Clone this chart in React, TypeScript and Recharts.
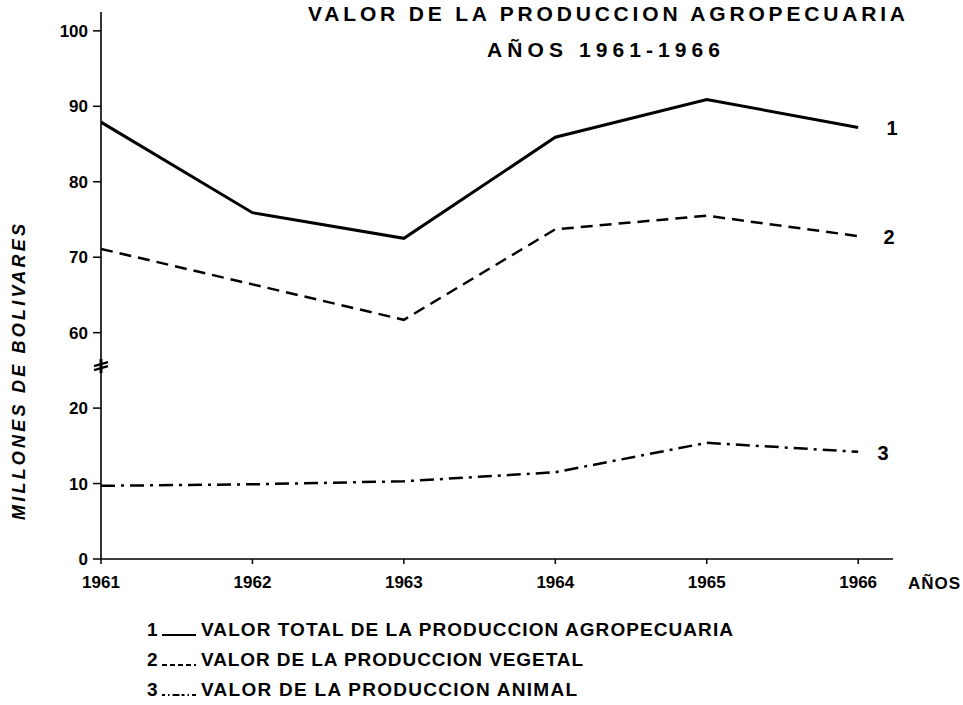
import React from 'react'
import { LineChart, Line, XAxis, YAxis, ReferenceDot } from 'recharts'

// values in millions of bolivares
const years = [1961, 1962, 1963, 1964, 1965, 1966]
const totalValues = [87.9, 75.9, 72.5, 85.9, 90.9, 87.2]
const vegetalValues = [71.1, 66.4, 61.7, 73.7, 75.5, 72.8]
const animalValues = [9.7, 9.9, 10.3, 11.5, 15.4, 14.2]
const yTickLabels = [0, 10, 20, 60, 70, 80, 90, 100]

const legendItems = [
  { num: '1', text: 'VALOR TOTAL DE LA PRODUCCION AGROPECUARIA', dash: undefined, textWidth: 532 },
  { num: '2', text: 'VALOR DE LA PRODUCCION VEGETAL', dash: '5 3', textWidth: 382 },
  { num: '3', text: 'VALOR DE LA PRODUCCION ANIMAL', dash: '3 3 1.5 3 7 2', textWidth: 376 },
]

// broken axis: 20..60 squeezed into one tick step
const compress = (v: number) => (v >= 60 ? v - 30 : v)
const expand = (v: number) => (v > 25 ? v + 30 : v)

const data = years.map((year, i) => ({
  year,
  total: totalValues[i],
  vegetal: vegetalValues[i],
  animal: animalValues[i],
}))

const FONT = '"Liberation Sans", Arial, sans-serif'

const endLabel = (num: string, dx: number) => (props: any) => {
  if (props.index !== years.length - 1) return null
  return (
    <text x={props.x + dx} y={props.y + 8} fontFamily={FONT} fontWeight={700} fontSize={20} fill="#000" textAnchor="middle">
      {num}
    </text>
  )
}

const BreakMark = (props: any) => {
  const { cx, cy } = props
  return (
    <g stroke="#000" strokeWidth={2.2} fill="none">
      <path d={`M${cx - 7},${cy + 1} L${cx + 7},${cy - 3}`} />
      <path d={`M${cx - 7},${cy + 5} L${cx + 7},${cy + 1}`} />
      <path d={`M${cx},${cy - 6} L${cx},${cy + 8}`} strokeWidth={3} />
    </g>
  )
}

export default function App() {
  return (
    <div style={{ position: 'absolute', left: 0, top: 0, width: 963, height: 705, background: '#fff' }}>
      <LineChart width={963} height={705} data={data} margin={{ top: 12, right: 70, bottom: 116, left: 40 }}>
        <XAxis
          dataKey="year"
          type="number"
          domain={[1961, 1966.23]}
          ticks={years}
          allowDataOverflow
          height={30}
          axisLine={{ stroke: '#000', strokeWidth: 1.6 }}
          tickLine={{ stroke: '#000', strokeWidth: 1.5 }}
          tickSize={5}
          tickMargin={12}
          tick={{ fill: '#000', fontSize: 17, fontWeight: 700, fontFamily: FONT }}
        />
        <YAxis
          type="number"
          domain={[0, 72.5]}
          ticks={yTickLabels.map(compress)}
          tickFormatter={(v: number) => String(expand(v))}
          allowDataOverflow
          width={61}
          axisLine={{ stroke: '#000', strokeWidth: 1.6 }}
          tickLine={{ stroke: '#000', strokeWidth: 1.5 }}
          tickSize={8}
          tickMargin={5}
          tick={{ fill: '#000', fontSize: 17, fontWeight: 700, fontFamily: FONT }}
        />
        <ReferenceDot x={1961} y={25.7} r={0} shape={BreakMark} ifOverflow="visible" />
        <Line
          dataKey={(d: any) => compress(d.total)}
          stroke="#000"
          strokeWidth={3}
          dot={false}
          activeDot={false}
          isAnimationActive={false}
          label={endLabel('1', 34)}
        />
        <Line
          dataKey={(d: any) => compress(d.vegetal)}
          stroke="#000"
          strokeWidth={2.5}
          strokeDasharray="12 7"
          dot={false}
          activeDot={false}
          isAnimationActive={false}
          label={endLabel('2', 31)}
        />
        <Line
          dataKey={(d: any) => compress(d.animal)}
          stroke="#000"
          strokeWidth={2.5}
          strokeDasharray="14 6 3 6"
          dot={false}
          activeDot={false}
          isAnimationActive={false}
          label={endLabel('3', 25)}
        />
      </LineChart>

      <svg width={963} height={705} style={{ position: 'absolute', left: 0, top: 0, pointerEvents: 'none' }}>
        <g fontFamily={FONT} fontWeight={700} fill="#000">
          <text x={308} y={21} fontSize={21} textLength={597} lengthAdjust="spacing">
            VALOR DE LA PRODUCCION AGROPECUARIA
          </text>
          <text x={487} y={57} fontSize={21} textLength={233} lengthAdjust="spacing">
            AÑOS  1961-1966
          </text>
          <text
            x={25}
            y={372}
            fontSize={18}
            fontStyle="italic"
            textAnchor="middle"
            transform="rotate(-90, 25, 372)"
            textLength={296}
            lengthAdjust="spacing"
          >
            MILLONES DE BOLIVARES
          </text>
          <text x={908} y={589} fontSize={17} textLength={52} lengthAdjust="spacing">
            AÑOS
          </text>
          {legendItems.map((item, i) => {
            const y = 636 + i * 30
            return (
              <g key={item.num}>
                <text x={147} y={y} fontSize={19}>{item.num}</text>
                <line x1={162} x2={196} y1={y - 1} y2={y - 1} stroke="#000" strokeWidth={2} strokeDasharray={item.dash} />
                <text x={201} y={y} fontSize={19} textLength={item.textWidth} lengthAdjust="spacing">
                  {item.text}
                </text>
              </g>
            )
          })}
        </g>
      </svg>
    </div>
  )
}
